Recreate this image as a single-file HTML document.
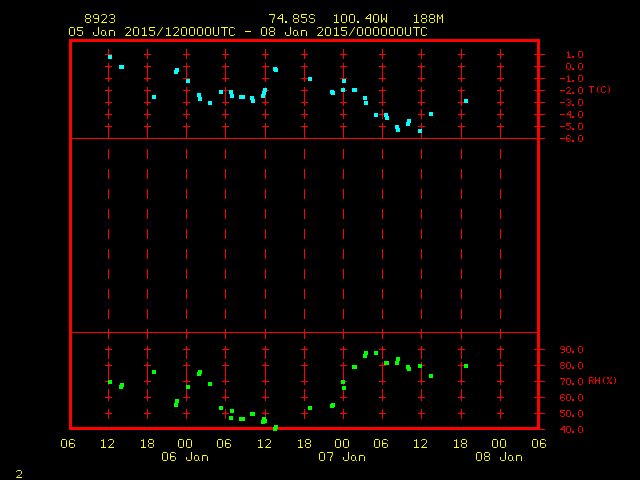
<!DOCTYPE html>
<html><head><meta charset="utf-8"><title>Meteogram 8923</title>
<style>
html,body{margin:0;padding:0;background:#000;width:640px;height:480px;overflow:hidden;font-family:"Liberation Sans",sans-serif;}
svg{display:block}
</style></head><body>
<svg width="640" height="480" viewBox="0 0 640 480">
<rect x="0" y="0" width="640" height="480" fill="#000"/>
<g shape-rendering="crispEdges">
<rect x="108" y="49" width="1" height="10" fill="#ff0000"/>
<rect x="108" y="69" width="1" height="10" fill="#ff0000"/>
<rect x="108" y="89" width="1" height="10" fill="#ff0000"/>
<rect x="108" y="109" width="1" height="10" fill="#ff0000"/>
<rect x="108" y="129" width="1" height="10" fill="#ff0000"/>
<rect x="108" y="149" width="1" height="10" fill="#ff0000"/>
<rect x="108" y="169" width="1" height="10" fill="#ff0000"/>
<rect x="108" y="189" width="1" height="10" fill="#ff0000"/>
<rect x="108" y="209" width="1" height="10" fill="#ff0000"/>
<rect x="108" y="229" width="1" height="10" fill="#ff0000"/>
<rect x="108" y="249" width="1" height="10" fill="#ff0000"/>
<rect x="108" y="269" width="1" height="10" fill="#ff0000"/>
<rect x="108" y="289" width="1" height="10" fill="#ff0000"/>
<rect x="108" y="309" width="1" height="10" fill="#ff0000"/>
<rect x="108" y="329" width="1" height="10" fill="#ff0000"/>
<rect x="108" y="349" width="1" height="10" fill="#ff0000"/>
<rect x="108" y="369" width="1" height="10" fill="#ff0000"/>
<rect x="108" y="389" width="1" height="10" fill="#ff0000"/>
<rect x="108" y="409" width="1" height="10" fill="#ff0000"/>
<rect x="105" y="54" width="7" height="1" fill="#ff0000"/>
<rect x="108" y="51" width="1" height="7" fill="#ff0000"/>
<rect x="105" y="66" width="7" height="1" fill="#ff0000"/>
<rect x="108" y="63" width="1" height="7" fill="#ff0000"/>
<rect x="105" y="78" width="7" height="1" fill="#ff0000"/>
<rect x="108" y="75" width="1" height="7" fill="#ff0000"/>
<rect x="105" y="90" width="7" height="1" fill="#ff0000"/>
<rect x="108" y="87" width="1" height="7" fill="#ff0000"/>
<rect x="105" y="102" width="7" height="1" fill="#ff0000"/>
<rect x="108" y="99" width="1" height="7" fill="#ff0000"/>
<rect x="105" y="114" width="7" height="1" fill="#ff0000"/>
<rect x="108" y="111" width="1" height="7" fill="#ff0000"/>
<rect x="105" y="126" width="7" height="1" fill="#ff0000"/>
<rect x="108" y="123" width="1" height="7" fill="#ff0000"/>
<rect x="105" y="349" width="7" height="1" fill="#ff0000"/>
<rect x="108" y="346" width="1" height="7" fill="#ff0000"/>
<rect x="105" y="365" width="7" height="1" fill="#ff0000"/>
<rect x="108" y="362" width="1" height="7" fill="#ff0000"/>
<rect x="105" y="381" width="7" height="1" fill="#ff0000"/>
<rect x="108" y="378" width="1" height="7" fill="#ff0000"/>
<rect x="105" y="397" width="7" height="1" fill="#ff0000"/>
<rect x="108" y="394" width="1" height="7" fill="#ff0000"/>
<rect x="105" y="413" width="7" height="1" fill="#ff0000"/>
<rect x="108" y="410" width="1" height="7" fill="#ff0000"/>
<rect x="147" y="49" width="1" height="10" fill="#ff0000"/>
<rect x="147" y="69" width="1" height="10" fill="#ff0000"/>
<rect x="147" y="89" width="1" height="10" fill="#ff0000"/>
<rect x="147" y="109" width="1" height="10" fill="#ff0000"/>
<rect x="147" y="129" width="1" height="10" fill="#ff0000"/>
<rect x="147" y="149" width="1" height="10" fill="#ff0000"/>
<rect x="147" y="169" width="1" height="10" fill="#ff0000"/>
<rect x="147" y="189" width="1" height="10" fill="#ff0000"/>
<rect x="147" y="209" width="1" height="10" fill="#ff0000"/>
<rect x="147" y="229" width="1" height="10" fill="#ff0000"/>
<rect x="147" y="249" width="1" height="10" fill="#ff0000"/>
<rect x="147" y="269" width="1" height="10" fill="#ff0000"/>
<rect x="147" y="289" width="1" height="10" fill="#ff0000"/>
<rect x="147" y="309" width="1" height="10" fill="#ff0000"/>
<rect x="147" y="329" width="1" height="10" fill="#ff0000"/>
<rect x="147" y="349" width="1" height="10" fill="#ff0000"/>
<rect x="147" y="369" width="1" height="10" fill="#ff0000"/>
<rect x="147" y="389" width="1" height="10" fill="#ff0000"/>
<rect x="147" y="409" width="1" height="10" fill="#ff0000"/>
<rect x="144" y="54" width="7" height="1" fill="#ff0000"/>
<rect x="147" y="51" width="1" height="7" fill="#ff0000"/>
<rect x="144" y="66" width="7" height="1" fill="#ff0000"/>
<rect x="147" y="63" width="1" height="7" fill="#ff0000"/>
<rect x="144" y="78" width="7" height="1" fill="#ff0000"/>
<rect x="147" y="75" width="1" height="7" fill="#ff0000"/>
<rect x="144" y="90" width="7" height="1" fill="#ff0000"/>
<rect x="147" y="87" width="1" height="7" fill="#ff0000"/>
<rect x="144" y="102" width="7" height="1" fill="#ff0000"/>
<rect x="147" y="99" width="1" height="7" fill="#ff0000"/>
<rect x="144" y="114" width="7" height="1" fill="#ff0000"/>
<rect x="147" y="111" width="1" height="7" fill="#ff0000"/>
<rect x="144" y="126" width="7" height="1" fill="#ff0000"/>
<rect x="147" y="123" width="1" height="7" fill="#ff0000"/>
<rect x="144" y="349" width="7" height="1" fill="#ff0000"/>
<rect x="147" y="346" width="1" height="7" fill="#ff0000"/>
<rect x="144" y="365" width="7" height="1" fill="#ff0000"/>
<rect x="147" y="362" width="1" height="7" fill="#ff0000"/>
<rect x="144" y="381" width="7" height="1" fill="#ff0000"/>
<rect x="147" y="378" width="1" height="7" fill="#ff0000"/>
<rect x="144" y="397" width="7" height="1" fill="#ff0000"/>
<rect x="147" y="394" width="1" height="7" fill="#ff0000"/>
<rect x="144" y="413" width="7" height="1" fill="#ff0000"/>
<rect x="147" y="410" width="1" height="7" fill="#ff0000"/>
<rect x="186" y="49" width="1" height="10" fill="#ff0000"/>
<rect x="186" y="69" width="1" height="10" fill="#ff0000"/>
<rect x="186" y="89" width="1" height="10" fill="#ff0000"/>
<rect x="186" y="109" width="1" height="10" fill="#ff0000"/>
<rect x="186" y="129" width="1" height="10" fill="#ff0000"/>
<rect x="186" y="149" width="1" height="10" fill="#ff0000"/>
<rect x="186" y="169" width="1" height="10" fill="#ff0000"/>
<rect x="186" y="189" width="1" height="10" fill="#ff0000"/>
<rect x="186" y="209" width="1" height="10" fill="#ff0000"/>
<rect x="186" y="229" width="1" height="10" fill="#ff0000"/>
<rect x="186" y="249" width="1" height="10" fill="#ff0000"/>
<rect x="186" y="269" width="1" height="10" fill="#ff0000"/>
<rect x="186" y="289" width="1" height="10" fill="#ff0000"/>
<rect x="186" y="309" width="1" height="10" fill="#ff0000"/>
<rect x="186" y="329" width="1" height="10" fill="#ff0000"/>
<rect x="186" y="349" width="1" height="10" fill="#ff0000"/>
<rect x="186" y="369" width="1" height="10" fill="#ff0000"/>
<rect x="186" y="389" width="1" height="10" fill="#ff0000"/>
<rect x="186" y="409" width="1" height="10" fill="#ff0000"/>
<rect x="183" y="54" width="7" height="1" fill="#ff0000"/>
<rect x="186" y="51" width="1" height="7" fill="#ff0000"/>
<rect x="183" y="66" width="7" height="1" fill="#ff0000"/>
<rect x="186" y="63" width="1" height="7" fill="#ff0000"/>
<rect x="183" y="78" width="7" height="1" fill="#ff0000"/>
<rect x="186" y="75" width="1" height="7" fill="#ff0000"/>
<rect x="183" y="90" width="7" height="1" fill="#ff0000"/>
<rect x="186" y="87" width="1" height="7" fill="#ff0000"/>
<rect x="183" y="102" width="7" height="1" fill="#ff0000"/>
<rect x="186" y="99" width="1" height="7" fill="#ff0000"/>
<rect x="183" y="114" width="7" height="1" fill="#ff0000"/>
<rect x="186" y="111" width="1" height="7" fill="#ff0000"/>
<rect x="183" y="126" width="7" height="1" fill="#ff0000"/>
<rect x="186" y="123" width="1" height="7" fill="#ff0000"/>
<rect x="183" y="349" width="7" height="1" fill="#ff0000"/>
<rect x="186" y="346" width="1" height="7" fill="#ff0000"/>
<rect x="183" y="365" width="7" height="1" fill="#ff0000"/>
<rect x="186" y="362" width="1" height="7" fill="#ff0000"/>
<rect x="183" y="381" width="7" height="1" fill="#ff0000"/>
<rect x="186" y="378" width="1" height="7" fill="#ff0000"/>
<rect x="183" y="397" width="7" height="1" fill="#ff0000"/>
<rect x="186" y="394" width="1" height="7" fill="#ff0000"/>
<rect x="183" y="413" width="7" height="1" fill="#ff0000"/>
<rect x="186" y="410" width="1" height="7" fill="#ff0000"/>
<rect x="225" y="49" width="1" height="10" fill="#ff0000"/>
<rect x="225" y="69" width="1" height="10" fill="#ff0000"/>
<rect x="225" y="89" width="1" height="10" fill="#ff0000"/>
<rect x="225" y="109" width="1" height="10" fill="#ff0000"/>
<rect x="225" y="129" width="1" height="10" fill="#ff0000"/>
<rect x="225" y="149" width="1" height="10" fill="#ff0000"/>
<rect x="225" y="169" width="1" height="10" fill="#ff0000"/>
<rect x="225" y="189" width="1" height="10" fill="#ff0000"/>
<rect x="225" y="209" width="1" height="10" fill="#ff0000"/>
<rect x="225" y="229" width="1" height="10" fill="#ff0000"/>
<rect x="225" y="249" width="1" height="10" fill="#ff0000"/>
<rect x="225" y="269" width="1" height="10" fill="#ff0000"/>
<rect x="225" y="289" width="1" height="10" fill="#ff0000"/>
<rect x="225" y="309" width="1" height="10" fill="#ff0000"/>
<rect x="225" y="329" width="1" height="10" fill="#ff0000"/>
<rect x="225" y="349" width="1" height="10" fill="#ff0000"/>
<rect x="225" y="369" width="1" height="10" fill="#ff0000"/>
<rect x="225" y="389" width="1" height="10" fill="#ff0000"/>
<rect x="225" y="409" width="1" height="10" fill="#ff0000"/>
<rect x="222" y="54" width="7" height="1" fill="#ff0000"/>
<rect x="225" y="51" width="1" height="7" fill="#ff0000"/>
<rect x="222" y="66" width="7" height="1" fill="#ff0000"/>
<rect x="225" y="63" width="1" height="7" fill="#ff0000"/>
<rect x="222" y="78" width="7" height="1" fill="#ff0000"/>
<rect x="225" y="75" width="1" height="7" fill="#ff0000"/>
<rect x="222" y="90" width="7" height="1" fill="#ff0000"/>
<rect x="225" y="87" width="1" height="7" fill="#ff0000"/>
<rect x="222" y="102" width="7" height="1" fill="#ff0000"/>
<rect x="225" y="99" width="1" height="7" fill="#ff0000"/>
<rect x="222" y="114" width="7" height="1" fill="#ff0000"/>
<rect x="225" y="111" width="1" height="7" fill="#ff0000"/>
<rect x="222" y="126" width="7" height="1" fill="#ff0000"/>
<rect x="225" y="123" width="1" height="7" fill="#ff0000"/>
<rect x="222" y="349" width="7" height="1" fill="#ff0000"/>
<rect x="225" y="346" width="1" height="7" fill="#ff0000"/>
<rect x="222" y="365" width="7" height="1" fill="#ff0000"/>
<rect x="225" y="362" width="1" height="7" fill="#ff0000"/>
<rect x="222" y="381" width="7" height="1" fill="#ff0000"/>
<rect x="225" y="378" width="1" height="7" fill="#ff0000"/>
<rect x="222" y="397" width="7" height="1" fill="#ff0000"/>
<rect x="225" y="394" width="1" height="7" fill="#ff0000"/>
<rect x="222" y="413" width="7" height="1" fill="#ff0000"/>
<rect x="225" y="410" width="1" height="7" fill="#ff0000"/>
<rect x="265" y="49" width="1" height="10" fill="#ff0000"/>
<rect x="265" y="69" width="1" height="10" fill="#ff0000"/>
<rect x="265" y="89" width="1" height="10" fill="#ff0000"/>
<rect x="265" y="109" width="1" height="10" fill="#ff0000"/>
<rect x="265" y="129" width="1" height="10" fill="#ff0000"/>
<rect x="265" y="149" width="1" height="10" fill="#ff0000"/>
<rect x="265" y="169" width="1" height="10" fill="#ff0000"/>
<rect x="265" y="189" width="1" height="10" fill="#ff0000"/>
<rect x="265" y="209" width="1" height="10" fill="#ff0000"/>
<rect x="265" y="229" width="1" height="10" fill="#ff0000"/>
<rect x="265" y="249" width="1" height="10" fill="#ff0000"/>
<rect x="265" y="269" width="1" height="10" fill="#ff0000"/>
<rect x="265" y="289" width="1" height="10" fill="#ff0000"/>
<rect x="265" y="309" width="1" height="10" fill="#ff0000"/>
<rect x="265" y="329" width="1" height="10" fill="#ff0000"/>
<rect x="265" y="349" width="1" height="10" fill="#ff0000"/>
<rect x="265" y="369" width="1" height="10" fill="#ff0000"/>
<rect x="265" y="389" width="1" height="10" fill="#ff0000"/>
<rect x="265" y="409" width="1" height="10" fill="#ff0000"/>
<rect x="262" y="54" width="7" height="1" fill="#ff0000"/>
<rect x="265" y="51" width="1" height="7" fill="#ff0000"/>
<rect x="262" y="66" width="7" height="1" fill="#ff0000"/>
<rect x="265" y="63" width="1" height="7" fill="#ff0000"/>
<rect x="262" y="78" width="7" height="1" fill="#ff0000"/>
<rect x="265" y="75" width="1" height="7" fill="#ff0000"/>
<rect x="262" y="90" width="7" height="1" fill="#ff0000"/>
<rect x="265" y="87" width="1" height="7" fill="#ff0000"/>
<rect x="262" y="102" width="7" height="1" fill="#ff0000"/>
<rect x="265" y="99" width="1" height="7" fill="#ff0000"/>
<rect x="262" y="114" width="7" height="1" fill="#ff0000"/>
<rect x="265" y="111" width="1" height="7" fill="#ff0000"/>
<rect x="262" y="126" width="7" height="1" fill="#ff0000"/>
<rect x="265" y="123" width="1" height="7" fill="#ff0000"/>
<rect x="262" y="349" width="7" height="1" fill="#ff0000"/>
<rect x="265" y="346" width="1" height="7" fill="#ff0000"/>
<rect x="262" y="365" width="7" height="1" fill="#ff0000"/>
<rect x="265" y="362" width="1" height="7" fill="#ff0000"/>
<rect x="262" y="381" width="7" height="1" fill="#ff0000"/>
<rect x="265" y="378" width="1" height="7" fill="#ff0000"/>
<rect x="262" y="397" width="7" height="1" fill="#ff0000"/>
<rect x="265" y="394" width="1" height="7" fill="#ff0000"/>
<rect x="262" y="413" width="7" height="1" fill="#ff0000"/>
<rect x="265" y="410" width="1" height="7" fill="#ff0000"/>
<rect x="304" y="49" width="1" height="10" fill="#ff0000"/>
<rect x="304" y="69" width="1" height="10" fill="#ff0000"/>
<rect x="304" y="89" width="1" height="10" fill="#ff0000"/>
<rect x="304" y="109" width="1" height="10" fill="#ff0000"/>
<rect x="304" y="129" width="1" height="10" fill="#ff0000"/>
<rect x="304" y="149" width="1" height="10" fill="#ff0000"/>
<rect x="304" y="169" width="1" height="10" fill="#ff0000"/>
<rect x="304" y="189" width="1" height="10" fill="#ff0000"/>
<rect x="304" y="209" width="1" height="10" fill="#ff0000"/>
<rect x="304" y="229" width="1" height="10" fill="#ff0000"/>
<rect x="304" y="249" width="1" height="10" fill="#ff0000"/>
<rect x="304" y="269" width="1" height="10" fill="#ff0000"/>
<rect x="304" y="289" width="1" height="10" fill="#ff0000"/>
<rect x="304" y="309" width="1" height="10" fill="#ff0000"/>
<rect x="304" y="329" width="1" height="10" fill="#ff0000"/>
<rect x="304" y="349" width="1" height="10" fill="#ff0000"/>
<rect x="304" y="369" width="1" height="10" fill="#ff0000"/>
<rect x="304" y="389" width="1" height="10" fill="#ff0000"/>
<rect x="304" y="409" width="1" height="10" fill="#ff0000"/>
<rect x="301" y="54" width="7" height="1" fill="#ff0000"/>
<rect x="304" y="51" width="1" height="7" fill="#ff0000"/>
<rect x="301" y="66" width="7" height="1" fill="#ff0000"/>
<rect x="304" y="63" width="1" height="7" fill="#ff0000"/>
<rect x="301" y="78" width="7" height="1" fill="#ff0000"/>
<rect x="304" y="75" width="1" height="7" fill="#ff0000"/>
<rect x="301" y="90" width="7" height="1" fill="#ff0000"/>
<rect x="304" y="87" width="1" height="7" fill="#ff0000"/>
<rect x="301" y="102" width="7" height="1" fill="#ff0000"/>
<rect x="304" y="99" width="1" height="7" fill="#ff0000"/>
<rect x="301" y="114" width="7" height="1" fill="#ff0000"/>
<rect x="304" y="111" width="1" height="7" fill="#ff0000"/>
<rect x="301" y="126" width="7" height="1" fill="#ff0000"/>
<rect x="304" y="123" width="1" height="7" fill="#ff0000"/>
<rect x="301" y="349" width="7" height="1" fill="#ff0000"/>
<rect x="304" y="346" width="1" height="7" fill="#ff0000"/>
<rect x="301" y="365" width="7" height="1" fill="#ff0000"/>
<rect x="304" y="362" width="1" height="7" fill="#ff0000"/>
<rect x="301" y="381" width="7" height="1" fill="#ff0000"/>
<rect x="304" y="378" width="1" height="7" fill="#ff0000"/>
<rect x="301" y="397" width="7" height="1" fill="#ff0000"/>
<rect x="304" y="394" width="1" height="7" fill="#ff0000"/>
<rect x="301" y="413" width="7" height="1" fill="#ff0000"/>
<rect x="304" y="410" width="1" height="7" fill="#ff0000"/>
<rect x="343" y="49" width="1" height="10" fill="#ff0000"/>
<rect x="343" y="69" width="1" height="10" fill="#ff0000"/>
<rect x="343" y="89" width="1" height="10" fill="#ff0000"/>
<rect x="343" y="109" width="1" height="10" fill="#ff0000"/>
<rect x="343" y="129" width="1" height="10" fill="#ff0000"/>
<rect x="343" y="149" width="1" height="10" fill="#ff0000"/>
<rect x="343" y="169" width="1" height="10" fill="#ff0000"/>
<rect x="343" y="189" width="1" height="10" fill="#ff0000"/>
<rect x="343" y="209" width="1" height="10" fill="#ff0000"/>
<rect x="343" y="229" width="1" height="10" fill="#ff0000"/>
<rect x="343" y="249" width="1" height="10" fill="#ff0000"/>
<rect x="343" y="269" width="1" height="10" fill="#ff0000"/>
<rect x="343" y="289" width="1" height="10" fill="#ff0000"/>
<rect x="343" y="309" width="1" height="10" fill="#ff0000"/>
<rect x="343" y="329" width="1" height="10" fill="#ff0000"/>
<rect x="343" y="349" width="1" height="10" fill="#ff0000"/>
<rect x="343" y="369" width="1" height="10" fill="#ff0000"/>
<rect x="343" y="389" width="1" height="10" fill="#ff0000"/>
<rect x="343" y="409" width="1" height="10" fill="#ff0000"/>
<rect x="340" y="54" width="7" height="1" fill="#ff0000"/>
<rect x="343" y="51" width="1" height="7" fill="#ff0000"/>
<rect x="340" y="66" width="7" height="1" fill="#ff0000"/>
<rect x="343" y="63" width="1" height="7" fill="#ff0000"/>
<rect x="340" y="78" width="7" height="1" fill="#ff0000"/>
<rect x="343" y="75" width="1" height="7" fill="#ff0000"/>
<rect x="340" y="90" width="7" height="1" fill="#ff0000"/>
<rect x="343" y="87" width="1" height="7" fill="#ff0000"/>
<rect x="340" y="102" width="7" height="1" fill="#ff0000"/>
<rect x="343" y="99" width="1" height="7" fill="#ff0000"/>
<rect x="340" y="114" width="7" height="1" fill="#ff0000"/>
<rect x="343" y="111" width="1" height="7" fill="#ff0000"/>
<rect x="340" y="126" width="7" height="1" fill="#ff0000"/>
<rect x="343" y="123" width="1" height="7" fill="#ff0000"/>
<rect x="340" y="349" width="7" height="1" fill="#ff0000"/>
<rect x="343" y="346" width="1" height="7" fill="#ff0000"/>
<rect x="340" y="365" width="7" height="1" fill="#ff0000"/>
<rect x="343" y="362" width="1" height="7" fill="#ff0000"/>
<rect x="340" y="381" width="7" height="1" fill="#ff0000"/>
<rect x="343" y="378" width="1" height="7" fill="#ff0000"/>
<rect x="340" y="397" width="7" height="1" fill="#ff0000"/>
<rect x="343" y="394" width="1" height="7" fill="#ff0000"/>
<rect x="340" y="413" width="7" height="1" fill="#ff0000"/>
<rect x="343" y="410" width="1" height="7" fill="#ff0000"/>
<rect x="382" y="49" width="1" height="10" fill="#ff0000"/>
<rect x="382" y="69" width="1" height="10" fill="#ff0000"/>
<rect x="382" y="89" width="1" height="10" fill="#ff0000"/>
<rect x="382" y="109" width="1" height="10" fill="#ff0000"/>
<rect x="382" y="129" width="1" height="10" fill="#ff0000"/>
<rect x="382" y="149" width="1" height="10" fill="#ff0000"/>
<rect x="382" y="169" width="1" height="10" fill="#ff0000"/>
<rect x="382" y="189" width="1" height="10" fill="#ff0000"/>
<rect x="382" y="209" width="1" height="10" fill="#ff0000"/>
<rect x="382" y="229" width="1" height="10" fill="#ff0000"/>
<rect x="382" y="249" width="1" height="10" fill="#ff0000"/>
<rect x="382" y="269" width="1" height="10" fill="#ff0000"/>
<rect x="382" y="289" width="1" height="10" fill="#ff0000"/>
<rect x="382" y="309" width="1" height="10" fill="#ff0000"/>
<rect x="382" y="329" width="1" height="10" fill="#ff0000"/>
<rect x="382" y="349" width="1" height="10" fill="#ff0000"/>
<rect x="382" y="369" width="1" height="10" fill="#ff0000"/>
<rect x="382" y="389" width="1" height="10" fill="#ff0000"/>
<rect x="382" y="409" width="1" height="10" fill="#ff0000"/>
<rect x="379" y="54" width="7" height="1" fill="#ff0000"/>
<rect x="382" y="51" width="1" height="7" fill="#ff0000"/>
<rect x="379" y="66" width="7" height="1" fill="#ff0000"/>
<rect x="382" y="63" width="1" height="7" fill="#ff0000"/>
<rect x="379" y="78" width="7" height="1" fill="#ff0000"/>
<rect x="382" y="75" width="1" height="7" fill="#ff0000"/>
<rect x="379" y="90" width="7" height="1" fill="#ff0000"/>
<rect x="382" y="87" width="1" height="7" fill="#ff0000"/>
<rect x="379" y="102" width="7" height="1" fill="#ff0000"/>
<rect x="382" y="99" width="1" height="7" fill="#ff0000"/>
<rect x="379" y="114" width="7" height="1" fill="#ff0000"/>
<rect x="382" y="111" width="1" height="7" fill="#ff0000"/>
<rect x="379" y="126" width="7" height="1" fill="#ff0000"/>
<rect x="382" y="123" width="1" height="7" fill="#ff0000"/>
<rect x="379" y="349" width="7" height="1" fill="#ff0000"/>
<rect x="382" y="346" width="1" height="7" fill="#ff0000"/>
<rect x="379" y="365" width="7" height="1" fill="#ff0000"/>
<rect x="382" y="362" width="1" height="7" fill="#ff0000"/>
<rect x="379" y="381" width="7" height="1" fill="#ff0000"/>
<rect x="382" y="378" width="1" height="7" fill="#ff0000"/>
<rect x="379" y="397" width="7" height="1" fill="#ff0000"/>
<rect x="382" y="394" width="1" height="7" fill="#ff0000"/>
<rect x="379" y="413" width="7" height="1" fill="#ff0000"/>
<rect x="382" y="410" width="1" height="7" fill="#ff0000"/>
<rect x="421" y="49" width="1" height="10" fill="#ff0000"/>
<rect x="421" y="69" width="1" height="10" fill="#ff0000"/>
<rect x="421" y="89" width="1" height="10" fill="#ff0000"/>
<rect x="421" y="109" width="1" height="10" fill="#ff0000"/>
<rect x="421" y="129" width="1" height="10" fill="#ff0000"/>
<rect x="421" y="149" width="1" height="10" fill="#ff0000"/>
<rect x="421" y="169" width="1" height="10" fill="#ff0000"/>
<rect x="421" y="189" width="1" height="10" fill="#ff0000"/>
<rect x="421" y="209" width="1" height="10" fill="#ff0000"/>
<rect x="421" y="229" width="1" height="10" fill="#ff0000"/>
<rect x="421" y="249" width="1" height="10" fill="#ff0000"/>
<rect x="421" y="269" width="1" height="10" fill="#ff0000"/>
<rect x="421" y="289" width="1" height="10" fill="#ff0000"/>
<rect x="421" y="309" width="1" height="10" fill="#ff0000"/>
<rect x="421" y="329" width="1" height="10" fill="#ff0000"/>
<rect x="421" y="349" width="1" height="10" fill="#ff0000"/>
<rect x="421" y="369" width="1" height="10" fill="#ff0000"/>
<rect x="421" y="389" width="1" height="10" fill="#ff0000"/>
<rect x="421" y="409" width="1" height="10" fill="#ff0000"/>
<rect x="418" y="54" width="7" height="1" fill="#ff0000"/>
<rect x="421" y="51" width="1" height="7" fill="#ff0000"/>
<rect x="418" y="66" width="7" height="1" fill="#ff0000"/>
<rect x="421" y="63" width="1" height="7" fill="#ff0000"/>
<rect x="418" y="78" width="7" height="1" fill="#ff0000"/>
<rect x="421" y="75" width="1" height="7" fill="#ff0000"/>
<rect x="418" y="90" width="7" height="1" fill="#ff0000"/>
<rect x="421" y="87" width="1" height="7" fill="#ff0000"/>
<rect x="418" y="102" width="7" height="1" fill="#ff0000"/>
<rect x="421" y="99" width="1" height="7" fill="#ff0000"/>
<rect x="418" y="114" width="7" height="1" fill="#ff0000"/>
<rect x="421" y="111" width="1" height="7" fill="#ff0000"/>
<rect x="418" y="126" width="7" height="1" fill="#ff0000"/>
<rect x="421" y="123" width="1" height="7" fill="#ff0000"/>
<rect x="418" y="349" width="7" height="1" fill="#ff0000"/>
<rect x="421" y="346" width="1" height="7" fill="#ff0000"/>
<rect x="418" y="365" width="7" height="1" fill="#ff0000"/>
<rect x="421" y="362" width="1" height="7" fill="#ff0000"/>
<rect x="418" y="381" width="7" height="1" fill="#ff0000"/>
<rect x="421" y="378" width="1" height="7" fill="#ff0000"/>
<rect x="418" y="397" width="7" height="1" fill="#ff0000"/>
<rect x="421" y="394" width="1" height="7" fill="#ff0000"/>
<rect x="418" y="413" width="7" height="1" fill="#ff0000"/>
<rect x="421" y="410" width="1" height="7" fill="#ff0000"/>
<rect x="461" y="49" width="1" height="10" fill="#ff0000"/>
<rect x="461" y="69" width="1" height="10" fill="#ff0000"/>
<rect x="461" y="89" width="1" height="10" fill="#ff0000"/>
<rect x="461" y="109" width="1" height="10" fill="#ff0000"/>
<rect x="461" y="129" width="1" height="10" fill="#ff0000"/>
<rect x="461" y="149" width="1" height="10" fill="#ff0000"/>
<rect x="461" y="169" width="1" height="10" fill="#ff0000"/>
<rect x="461" y="189" width="1" height="10" fill="#ff0000"/>
<rect x="461" y="209" width="1" height="10" fill="#ff0000"/>
<rect x="461" y="229" width="1" height="10" fill="#ff0000"/>
<rect x="461" y="249" width="1" height="10" fill="#ff0000"/>
<rect x="461" y="269" width="1" height="10" fill="#ff0000"/>
<rect x="461" y="289" width="1" height="10" fill="#ff0000"/>
<rect x="461" y="309" width="1" height="10" fill="#ff0000"/>
<rect x="461" y="329" width="1" height="10" fill="#ff0000"/>
<rect x="461" y="349" width="1" height="10" fill="#ff0000"/>
<rect x="461" y="369" width="1" height="10" fill="#ff0000"/>
<rect x="461" y="389" width="1" height="10" fill="#ff0000"/>
<rect x="461" y="409" width="1" height="10" fill="#ff0000"/>
<rect x="458" y="54" width="7" height="1" fill="#ff0000"/>
<rect x="461" y="51" width="1" height="7" fill="#ff0000"/>
<rect x="458" y="66" width="7" height="1" fill="#ff0000"/>
<rect x="461" y="63" width="1" height="7" fill="#ff0000"/>
<rect x="458" y="78" width="7" height="1" fill="#ff0000"/>
<rect x="461" y="75" width="1" height="7" fill="#ff0000"/>
<rect x="458" y="90" width="7" height="1" fill="#ff0000"/>
<rect x="461" y="87" width="1" height="7" fill="#ff0000"/>
<rect x="458" y="102" width="7" height="1" fill="#ff0000"/>
<rect x="461" y="99" width="1" height="7" fill="#ff0000"/>
<rect x="458" y="114" width="7" height="1" fill="#ff0000"/>
<rect x="461" y="111" width="1" height="7" fill="#ff0000"/>
<rect x="458" y="126" width="7" height="1" fill="#ff0000"/>
<rect x="461" y="123" width="1" height="7" fill="#ff0000"/>
<rect x="458" y="349" width="7" height="1" fill="#ff0000"/>
<rect x="461" y="346" width="1" height="7" fill="#ff0000"/>
<rect x="458" y="365" width="7" height="1" fill="#ff0000"/>
<rect x="461" y="362" width="1" height="7" fill="#ff0000"/>
<rect x="458" y="381" width="7" height="1" fill="#ff0000"/>
<rect x="461" y="378" width="1" height="7" fill="#ff0000"/>
<rect x="458" y="397" width="7" height="1" fill="#ff0000"/>
<rect x="461" y="394" width="1" height="7" fill="#ff0000"/>
<rect x="458" y="413" width="7" height="1" fill="#ff0000"/>
<rect x="461" y="410" width="1" height="7" fill="#ff0000"/>
<rect x="500" y="49" width="1" height="10" fill="#ff0000"/>
<rect x="500" y="69" width="1" height="10" fill="#ff0000"/>
<rect x="500" y="89" width="1" height="10" fill="#ff0000"/>
<rect x="500" y="109" width="1" height="10" fill="#ff0000"/>
<rect x="500" y="129" width="1" height="10" fill="#ff0000"/>
<rect x="500" y="149" width="1" height="10" fill="#ff0000"/>
<rect x="500" y="169" width="1" height="10" fill="#ff0000"/>
<rect x="500" y="189" width="1" height="10" fill="#ff0000"/>
<rect x="500" y="209" width="1" height="10" fill="#ff0000"/>
<rect x="500" y="229" width="1" height="10" fill="#ff0000"/>
<rect x="500" y="249" width="1" height="10" fill="#ff0000"/>
<rect x="500" y="269" width="1" height="10" fill="#ff0000"/>
<rect x="500" y="289" width="1" height="10" fill="#ff0000"/>
<rect x="500" y="309" width="1" height="10" fill="#ff0000"/>
<rect x="500" y="329" width="1" height="10" fill="#ff0000"/>
<rect x="500" y="349" width="1" height="10" fill="#ff0000"/>
<rect x="500" y="369" width="1" height="10" fill="#ff0000"/>
<rect x="500" y="389" width="1" height="10" fill="#ff0000"/>
<rect x="500" y="409" width="1" height="10" fill="#ff0000"/>
<rect x="497" y="54" width="7" height="1" fill="#ff0000"/>
<rect x="500" y="51" width="1" height="7" fill="#ff0000"/>
<rect x="497" y="66" width="7" height="1" fill="#ff0000"/>
<rect x="500" y="63" width="1" height="7" fill="#ff0000"/>
<rect x="497" y="78" width="7" height="1" fill="#ff0000"/>
<rect x="500" y="75" width="1" height="7" fill="#ff0000"/>
<rect x="497" y="90" width="7" height="1" fill="#ff0000"/>
<rect x="500" y="87" width="1" height="7" fill="#ff0000"/>
<rect x="497" y="102" width="7" height="1" fill="#ff0000"/>
<rect x="500" y="99" width="1" height="7" fill="#ff0000"/>
<rect x="497" y="114" width="7" height="1" fill="#ff0000"/>
<rect x="500" y="111" width="1" height="7" fill="#ff0000"/>
<rect x="497" y="126" width="7" height="1" fill="#ff0000"/>
<rect x="500" y="123" width="1" height="7" fill="#ff0000"/>
<rect x="497" y="349" width="7" height="1" fill="#ff0000"/>
<rect x="500" y="346" width="1" height="7" fill="#ff0000"/>
<rect x="497" y="365" width="7" height="1" fill="#ff0000"/>
<rect x="500" y="362" width="1" height="7" fill="#ff0000"/>
<rect x="497" y="381" width="7" height="1" fill="#ff0000"/>
<rect x="500" y="378" width="1" height="7" fill="#ff0000"/>
<rect x="497" y="397" width="7" height="1" fill="#ff0000"/>
<rect x="500" y="394" width="1" height="7" fill="#ff0000"/>
<rect x="497" y="413" width="7" height="1" fill="#ff0000"/>
<rect x="500" y="410" width="1" height="7" fill="#ff0000"/>
<rect x="70" y="138" width="468" height="1" fill="#ff0000"/>
<rect x="70" y="332" width="468" height="1" fill="#ff0000"/>
<rect x="69" y="39" width="471" height="3" fill="#ff0000"/>
<rect x="69" y="427" width="471" height="3" fill="#ff0000"/>
<rect x="69" y="39" width="3" height="391" fill="#ff0000"/>
<rect x="537" y="39" width="3" height="391" fill="#ff0000"/>
<rect x="534" y="54" width="11" height="1" fill="#ff0000"/>
<rect x="534" y="66" width="11" height="1" fill="#ff0000"/>
<rect x="534" y="78" width="11" height="1" fill="#ff0000"/>
<rect x="534" y="90" width="11" height="1" fill="#ff0000"/>
<rect x="534" y="102" width="11" height="1" fill="#ff0000"/>
<rect x="534" y="114" width="11" height="1" fill="#ff0000"/>
<rect x="534" y="126" width="11" height="1" fill="#ff0000"/>
<rect x="534" y="138" width="11" height="1" fill="#ff0000"/>
<rect x="534" y="349" width="11" height="1" fill="#ff0000"/>
<rect x="534" y="365" width="11" height="1" fill="#ff0000"/>
<rect x="534" y="381" width="11" height="1" fill="#ff0000"/>
<rect x="534" y="397" width="11" height="1" fill="#ff0000"/>
<rect x="534" y="413" width="11" height="1" fill="#ff0000"/>
<rect x="534" y="429" width="11" height="1" fill="#ff0000"/>
<rect x="108" y="55" width="4" height="4" fill="#00ffff"/>
<rect x="119" y="65" width="5" height="4" fill="#00ffff"/>
<rect x="175" y="68" width="4" height="4" fill="#00ffff"/>
<rect x="174" y="70" width="4" height="4" fill="#00ffff"/>
<rect x="186" y="79" width="4" height="4" fill="#00ffff"/>
<rect x="152" y="95" width="4" height="4" fill="#00ffff"/>
<rect x="197" y="93" width="4" height="4" fill="#00ffff"/>
<rect x="198" y="97" width="4" height="4" fill="#00ffff"/>
<rect x="208" y="101" width="4" height="4" fill="#00ffff"/>
<rect x="219" y="90" width="4" height="4" fill="#00ffff"/>
<rect x="229" y="90" width="4" height="4" fill="#00ffff"/>
<rect x="230" y="94" width="4" height="4" fill="#00ffff"/>
<rect x="239" y="95" width="6" height="4" fill="#00ffff"/>
<rect x="250" y="96" width="4" height="4" fill="#00ffff"/>
<rect x="251" y="99" width="4" height="4" fill="#00ffff"/>
<rect x="263" y="88" width="4" height="4" fill="#00ffff"/>
<rect x="262" y="91" width="4" height="4" fill="#00ffff"/>
<rect x="261" y="94" width="4" height="4" fill="#00ffff"/>
<rect x="273" y="67" width="4" height="4" fill="#00ffff"/>
<rect x="274" y="68" width="4" height="4" fill="#00ffff"/>
<rect x="308" y="77" width="4" height="4" fill="#00ffff"/>
<rect x="330" y="90" width="4" height="4" fill="#00ffff"/>
<rect x="331" y="91" width="4" height="4" fill="#00ffff"/>
<rect x="342" y="79" width="4" height="4" fill="#00ffff"/>
<rect x="341" y="88" width="4" height="4" fill="#00ffff"/>
<rect x="352" y="88" width="5" height="4" fill="#00ffff"/>
<rect x="363" y="96" width="4" height="4" fill="#00ffff"/>
<rect x="364" y="101" width="4" height="4" fill="#00ffff"/>
<rect x="374" y="113" width="4" height="4" fill="#00ffff"/>
<rect x="384" y="113" width="4" height="4" fill="#00ffff"/>
<rect x="385" y="116" width="4" height="4" fill="#00ffff"/>
<rect x="395" y="125" width="4" height="4" fill="#00ffff"/>
<rect x="396" y="128" width="4" height="4" fill="#00ffff"/>
<rect x="407" y="119" width="4" height="4" fill="#00ffff"/>
<rect x="406" y="122" width="4" height="4" fill="#00ffff"/>
<rect x="418" y="129" width="4" height="4" fill="#00ffff"/>
<rect x="429" y="112" width="4" height="4" fill="#00ffff"/>
<rect x="464" y="99" width="4" height="4" fill="#00ffff"/>
<rect x="108" y="380" width="4" height="4" fill="#00ff00"/>
<rect x="120" y="383" width="4" height="4" fill="#00ff00"/>
<rect x="119" y="385" width="4" height="4" fill="#00ff00"/>
<rect x="152" y="370" width="4" height="4" fill="#00ff00"/>
<rect x="175" y="399" width="4" height="4" fill="#00ff00"/>
<rect x="174" y="403" width="4" height="4" fill="#00ff00"/>
<rect x="186" y="385" width="4" height="4" fill="#00ff00"/>
<rect x="198" y="370" width="4" height="4" fill="#00ff00"/>
<rect x="197" y="372" width="4" height="4" fill="#00ff00"/>
<rect x="208" y="382" width="4" height="4" fill="#00ff00"/>
<rect x="219" y="406" width="4" height="4" fill="#00ff00"/>
<rect x="230" y="409" width="4" height="4" fill="#00ff00"/>
<rect x="229" y="416" width="4" height="4" fill="#00ff00"/>
<rect x="239" y="417" width="6" height="4" fill="#00ff00"/>
<rect x="250" y="412" width="5" height="4" fill="#00ff00"/>
<rect x="262" y="417" width="4" height="4" fill="#00ff00"/>
<rect x="263" y="419" width="4" height="4" fill="#00ff00"/>
<rect x="261" y="420" width="4" height="4" fill="#00ff00"/>
<rect x="274" y="425" width="4" height="4" fill="#00ff00"/>
<rect x="273" y="427" width="4" height="4" fill="#00ff00"/>
<rect x="308" y="406" width="4" height="4" fill="#00ff00"/>
<rect x="331" y="403" width="4" height="4" fill="#00ff00"/>
<rect x="330" y="404" width="4" height="4" fill="#00ff00"/>
<rect x="341" y="380" width="4" height="4" fill="#00ff00"/>
<rect x="342" y="386" width="4" height="4" fill="#00ff00"/>
<rect x="352" y="365" width="5" height="4" fill="#00ff00"/>
<rect x="364" y="351" width="4" height="4" fill="#00ff00"/>
<rect x="363" y="354" width="4" height="4" fill="#00ff00"/>
<rect x="374" y="351" width="4" height="4" fill="#00ff00"/>
<rect x="384" y="361" width="5" height="4" fill="#00ff00"/>
<rect x="396" y="357" width="4" height="4" fill="#00ff00"/>
<rect x="395" y="361" width="4" height="4" fill="#00ff00"/>
<rect x="406" y="365" width="4" height="4" fill="#00ff00"/>
<rect x="407" y="367" width="4" height="4" fill="#00ff00"/>
<rect x="418" y="364" width="4" height="4" fill="#00ff00"/>
<rect x="429" y="374" width="4" height="4" fill="#00ff00"/>
<rect x="464" y="364" width="4" height="4" fill="#00ff00"/>
</g>
<g>
<rect x="285" y="21" width="2" height="2" fill="#ffff00"/>
<rect x="357" y="21" width="2" height="2" fill="#ffff00"/>
<path d="M86.5 14.5 L89.5 14.5 L90.5 15.5 L90.5 17.5 L89.5 18.5 L90.5 19.5 L90.5 21.5 L89.5 22.5 L86.5 22.5 L85.5 21.5 L85.5 19.5 L86.5 18.5 L85.5 17.5 L85.5 15.5 L86.5 14.5 M86.5 18.5 L89.5 18.5 M94.5 22.5 L97.5 22.5 L98.5 21.5 L98.5 15.5 L97.5 14.5 L94.5 14.5 L93.5 15.5 L93.5 17.5 L94.5 18.5 L98.5 18.5 M101.5 15.5 L102.5 14.5 L105.5 14.5 L106.5 15.5 L106.5 17.5 L101.5 22.5 L106.5 22.5 M109.5 15.5 L110.5 14.5 L113.5 14.5 L114.5 15.5 L114.5 17.5 L113.5 18.5 L111.5 18.5 M113.5 18.5 L114.5 19.5 L114.5 21.5 L113.5 22.5 L110.5 22.5 L109.5 21.5 M269.5 14.5 L274.5 14.5 L274.5 16.5 L272.5 20.5 L272.5 22.5 M282.5 22.5 L282.5 14.5 M281.5 14.5 L277.5 18.5 L282.5 18.5 M294.5 14.5 L297.5 14.5 L298.5 15.5 L298.5 17.5 L297.5 18.5 L298.5 19.5 L298.5 21.5 L297.5 22.5 L294.5 22.5 L293.5 21.5 L293.5 19.5 L294.5 18.5 L293.5 17.5 L293.5 15.5 L294.5 14.5 M294.5 18.5 L297.5 18.5 M306.5 14.5 L301.5 14.5 L301.5 17.5 L305.5 17.5 L306.5 18.5 L306.5 21.5 L305.5 22.5 L302.5 22.5 L301.5 21.5 M314.5 15.5 L313.5 14.5 L310.5 14.5 L309.5 15.5 L309.5 17.5 L310.5 18.5 L313.5 18.5 L314.5 19.5 L314.5 21.5 L313.5 22.5 L310.5 22.5 L309.5 21.5 M334.5 15.5 L335.5 15.5 L336.5 14.5 L336.5 22.5 M334.5 22.5 L338.5 22.5 M342.5 14.5 L345.5 14.5 L346.5 15.5 L346.5 21.5 L345.5 22.5 L342.5 22.5 L341.5 21.5 L341.5 15.5 L342.5 14.5 M350.5 14.5 L353.5 14.5 L354.5 15.5 L354.5 21.5 L353.5 22.5 L350.5 22.5 L349.5 21.5 L349.5 15.5 L350.5 14.5 M370.5 22.5 L370.5 14.5 M369.5 14.5 L365.5 18.5 L370.5 18.5 M374.5 14.5 L377.5 14.5 L378.5 15.5 L378.5 21.5 L377.5 22.5 L374.5 22.5 L373.5 21.5 L373.5 15.5 L374.5 14.5 M381.5 14.5 L381.5 22.5 L382.5 21.5 L382.5 20.5 L383.5 19.5 L383.5 18.5 L384.5 18.5 L384.5 19.5 L385.5 20.5 L385.5 21.5 L386.5 22.5 L386.5 14.5 M414.5 15.5 L415.5 15.5 L416.5 14.5 L416.5 22.5 M414.5 22.5 L418.5 22.5 M422.5 14.5 L425.5 14.5 L426.5 15.5 L426.5 17.5 L425.5 18.5 L426.5 19.5 L426.5 21.5 L425.5 22.5 L422.5 22.5 L421.5 21.5 L421.5 19.5 L422.5 18.5 L421.5 17.5 L421.5 15.5 L422.5 14.5 M422.5 18.5 L425.5 18.5 M430.5 14.5 L433.5 14.5 L434.5 15.5 L434.5 17.5 L433.5 18.5 L434.5 19.5 L434.5 21.5 L433.5 22.5 L430.5 22.5 L429.5 21.5 L429.5 19.5 L430.5 18.5 L429.5 17.5 L429.5 15.5 L430.5 14.5 M430.5 18.5 L433.5 18.5 M437.5 22.5 L437.5 14.5 L438.5 15.5 L438.5 16.5 L439.5 17.5 L439.5 18.5 L440.5 18.5 L440.5 17.5 L441.5 16.5 L441.5 15.5 L442.5 14.5 L442.5 22.5" fill="none" stroke="#ffff00" stroke-width="1" stroke-linecap="square" stroke-linejoin="miter"/>
<path d="M70.5 27.5 L73.5 27.5 L74.5 28.5 L74.5 34.5 L73.5 35.5 L70.5 35.5 L69.5 34.5 L69.5 28.5 L70.5 27.5 M82.5 27.5 L77.5 27.5 L77.5 30.5 L81.5 30.5 L82.5 31.5 L82.5 34.5 L81.5 35.5 L78.5 35.5 L77.5 34.5 M98.5 27.5 L98.5 34.5 L97.5 35.5 L94.5 35.5 L93.5 34.5 L93.5 32.5 M102.5 30.5 L104.5 30.5 L105.5 31.5 L105.5 34.5 L104.5 35.5 L102.5 35.5 L101.5 34.5 L101.5 31.5 L102.5 30.5 M105.5 34.5 L106.5 35.5 M109.5 35.5 L109.5 30.5 L113.5 30.5 L114.5 31.5 L114.5 35.5 M125.5 28.5 L126.5 27.5 L129.5 27.5 L130.5 28.5 L130.5 30.5 L125.5 35.5 L130.5 35.5 M134.5 27.5 L137.5 27.5 L138.5 28.5 L138.5 34.5 L137.5 35.5 L134.5 35.5 L133.5 34.5 L133.5 28.5 L134.5 27.5 M142.5 28.5 L143.5 28.5 L144.5 27.5 L144.5 35.5 M142.5 35.5 L146.5 35.5 M154.5 27.5 L149.5 27.5 L149.5 30.5 L153.5 30.5 L154.5 31.5 L154.5 34.5 L153.5 35.5 L150.5 35.5 L149.5 34.5 M157.5 35.5 L162.5 27.5 M166.5 28.5 L167.5 28.5 L168.5 27.5 L168.5 35.5 M166.5 35.5 L170.5 35.5 M173.5 28.5 L174.5 27.5 L177.5 27.5 L178.5 28.5 L178.5 30.5 L173.5 35.5 L178.5 35.5 M182.5 27.5 L185.5 27.5 L186.5 28.5 L186.5 34.5 L185.5 35.5 L182.5 35.5 L181.5 34.5 L181.5 28.5 L182.5 27.5 M190.5 27.5 L193.5 27.5 L194.5 28.5 L194.5 34.5 L193.5 35.5 L190.5 35.5 L189.5 34.5 L189.5 28.5 L190.5 27.5 M198.5 27.5 L201.5 27.5 L202.5 28.5 L202.5 34.5 L201.5 35.5 L198.5 35.5 L197.5 34.5 L197.5 28.5 L198.5 27.5 M206.5 27.5 L209.5 27.5 L210.5 28.5 L210.5 34.5 L209.5 35.5 L206.5 35.5 L205.5 34.5 L205.5 28.5 L206.5 27.5 M213.5 27.5 L213.5 34.5 L214.5 35.5 L217.5 35.5 L218.5 34.5 L218.5 27.5 M221.5 27.5 L227.5 27.5 M224.5 27.5 L224.5 35.5 M234.5 28.5 L233.5 27.5 L230.5 27.5 L229.5 28.5 L229.5 34.5 L230.5 35.5 L233.5 35.5 L234.5 34.5 M245.5 31.5 L250.5 31.5 M262.5 27.5 L265.5 27.5 L266.5 28.5 L266.5 34.5 L265.5 35.5 L262.5 35.5 L261.5 34.5 L261.5 28.5 L262.5 27.5 M270.5 27.5 L273.5 27.5 L274.5 28.5 L274.5 30.5 L273.5 31.5 L274.5 32.5 L274.5 34.5 L273.5 35.5 L270.5 35.5 L269.5 34.5 L269.5 32.5 L270.5 31.5 L269.5 30.5 L269.5 28.5 L270.5 27.5 M270.5 31.5 L273.5 31.5 M290.5 27.5 L290.5 34.5 L289.5 35.5 L286.5 35.5 L285.5 34.5 L285.5 32.5 M294.5 30.5 L296.5 30.5 L297.5 31.5 L297.5 34.5 L296.5 35.5 L294.5 35.5 L293.5 34.5 L293.5 31.5 L294.5 30.5 M297.5 34.5 L298.5 35.5 M301.5 35.5 L301.5 30.5 L305.5 30.5 L306.5 31.5 L306.5 35.5 M317.5 28.5 L318.5 27.5 L321.5 27.5 L322.5 28.5 L322.5 30.5 L317.5 35.5 L322.5 35.5 M326.5 27.5 L329.5 27.5 L330.5 28.5 L330.5 34.5 L329.5 35.5 L326.5 35.5 L325.5 34.5 L325.5 28.5 L326.5 27.5 M334.5 28.5 L335.5 28.5 L336.5 27.5 L336.5 35.5 M334.5 35.5 L338.5 35.5 M346.5 27.5 L341.5 27.5 L341.5 30.5 L345.5 30.5 L346.5 31.5 L346.5 34.5 L345.5 35.5 L342.5 35.5 L341.5 34.5 M349.5 35.5 L354.5 27.5 M358.5 27.5 L361.5 27.5 L362.5 28.5 L362.5 34.5 L361.5 35.5 L358.5 35.5 L357.5 34.5 L357.5 28.5 L358.5 27.5 M366.5 27.5 L369.5 27.5 L370.5 28.5 L370.5 34.5 L369.5 35.5 L366.5 35.5 L365.5 34.5 L365.5 28.5 L366.5 27.5 M374.5 27.5 L377.5 27.5 L378.5 28.5 L378.5 34.5 L377.5 35.5 L374.5 35.5 L373.5 34.5 L373.5 28.5 L374.5 27.5 M382.5 27.5 L385.5 27.5 L386.5 28.5 L386.5 34.5 L385.5 35.5 L382.5 35.5 L381.5 34.5 L381.5 28.5 L382.5 27.5 M390.5 27.5 L393.5 27.5 L394.5 28.5 L394.5 34.5 L393.5 35.5 L390.5 35.5 L389.5 34.5 L389.5 28.5 L390.5 27.5 M398.5 27.5 L401.5 27.5 L402.5 28.5 L402.5 34.5 L401.5 35.5 L398.5 35.5 L397.5 34.5 L397.5 28.5 L398.5 27.5 M405.5 27.5 L405.5 34.5 L406.5 35.5 L409.5 35.5 L410.5 34.5 L410.5 27.5 M413.5 27.5 L419.5 27.5 M416.5 27.5 L416.5 35.5 M426.5 28.5 L425.5 27.5 L422.5 27.5 L421.5 28.5 L421.5 34.5 L422.5 35.5 L425.5 35.5 L426.5 34.5" fill="none" stroke="#ffff00" stroke-width="1" stroke-linecap="square" stroke-linejoin="miter"/>
<path d="M62.5 439.5 L65.5 439.5 L66.5 440.5 L66.5 446.5 L65.5 447.5 L62.5 447.5 L61.5 446.5 L61.5 440.5 L62.5 439.5 M74.5 440.5 L73.5 439.5 L70.5 439.5 L69.5 440.5 L69.5 446.5 L70.5 447.5 L73.5 447.5 L74.5 446.5 L74.5 444.5 L73.5 443.5 L69.5 443.5" fill="none" stroke="#ffff00" stroke-width="1" stroke-linecap="square" stroke-linejoin="miter"/>
<path d="M101.5 440.5 L102.5 440.5 L103.5 439.5 L103.5 447.5 M101.5 447.5 L105.5 447.5 M108.5 440.5 L109.5 439.5 L112.5 439.5 L113.5 440.5 L113.5 442.5 L108.5 447.5 L113.5 447.5" fill="none" stroke="#ffff00" stroke-width="1" stroke-linecap="square" stroke-linejoin="miter"/>
<path d="M141.5 440.5 L142.5 440.5 L143.5 439.5 L143.5 447.5 M141.5 447.5 L145.5 447.5 M149.5 439.5 L152.5 439.5 L153.5 440.5 L153.5 442.5 L152.5 443.5 L153.5 444.5 L153.5 446.5 L152.5 447.5 L149.5 447.5 L148.5 446.5 L148.5 444.5 L149.5 443.5 L148.5 442.5 L148.5 440.5 L149.5 439.5 M149.5 443.5 L152.5 443.5" fill="none" stroke="#ffff00" stroke-width="1" stroke-linecap="square" stroke-linejoin="miter"/>
<path d="M179.5 439.5 L182.5 439.5 L183.5 440.5 L183.5 446.5 L182.5 447.5 L179.5 447.5 L178.5 446.5 L178.5 440.5 L179.5 439.5 M187.5 439.5 L190.5 439.5 L191.5 440.5 L191.5 446.5 L190.5 447.5 L187.5 447.5 L186.5 446.5 L186.5 440.5 L187.5 439.5" fill="none" stroke="#ffff00" stroke-width="1" stroke-linecap="square" stroke-linejoin="miter"/>
<path d="M218.5 439.5 L221.5 439.5 L222.5 440.5 L222.5 446.5 L221.5 447.5 L218.5 447.5 L217.5 446.5 L217.5 440.5 L218.5 439.5 M230.5 440.5 L229.5 439.5 L226.5 439.5 L225.5 440.5 L225.5 446.5 L226.5 447.5 L229.5 447.5 L230.5 446.5 L230.5 444.5 L229.5 443.5 L225.5 443.5" fill="none" stroke="#ffff00" stroke-width="1" stroke-linecap="square" stroke-linejoin="miter"/>
<path d="M258.5 440.5 L259.5 440.5 L260.5 439.5 L260.5 447.5 M258.5 447.5 L262.5 447.5 M265.5 440.5 L266.5 439.5 L269.5 439.5 L270.5 440.5 L270.5 442.5 L265.5 447.5 L270.5 447.5" fill="none" stroke="#ffff00" stroke-width="1" stroke-linecap="square" stroke-linejoin="miter"/>
<path d="M298.5 440.5 L299.5 440.5 L300.5 439.5 L300.5 447.5 M298.5 447.5 L302.5 447.5 M306.5 439.5 L309.5 439.5 L310.5 440.5 L310.5 442.5 L309.5 443.5 L310.5 444.5 L310.5 446.5 L309.5 447.5 L306.5 447.5 L305.5 446.5 L305.5 444.5 L306.5 443.5 L305.5 442.5 L305.5 440.5 L306.5 439.5 M306.5 443.5 L309.5 443.5" fill="none" stroke="#ffff00" stroke-width="1" stroke-linecap="square" stroke-linejoin="miter"/>
<path d="M336.5 439.5 L339.5 439.5 L340.5 440.5 L340.5 446.5 L339.5 447.5 L336.5 447.5 L335.5 446.5 L335.5 440.5 L336.5 439.5 M344.5 439.5 L347.5 439.5 L348.5 440.5 L348.5 446.5 L347.5 447.5 L344.5 447.5 L343.5 446.5 L343.5 440.5 L344.5 439.5" fill="none" stroke="#ffff00" stroke-width="1" stroke-linecap="square" stroke-linejoin="miter"/>
<path d="M375.5 439.5 L378.5 439.5 L379.5 440.5 L379.5 446.5 L378.5 447.5 L375.5 447.5 L374.5 446.5 L374.5 440.5 L375.5 439.5 M387.5 440.5 L386.5 439.5 L383.5 439.5 L382.5 440.5 L382.5 446.5 L383.5 447.5 L386.5 447.5 L387.5 446.5 L387.5 444.5 L386.5 443.5 L382.5 443.5" fill="none" stroke="#ffff00" stroke-width="1" stroke-linecap="square" stroke-linejoin="miter"/>
<path d="M414.5 440.5 L415.5 440.5 L416.5 439.5 L416.5 447.5 M414.5 447.5 L418.5 447.5 M421.5 440.5 L422.5 439.5 L425.5 439.5 L426.5 440.5 L426.5 442.5 L421.5 447.5 L426.5 447.5" fill="none" stroke="#ffff00" stroke-width="1" stroke-linecap="square" stroke-linejoin="miter"/>
<path d="M454.5 440.5 L455.5 440.5 L456.5 439.5 L456.5 447.5 M454.5 447.5 L458.5 447.5 M462.5 439.5 L465.5 439.5 L466.5 440.5 L466.5 442.5 L465.5 443.5 L466.5 444.5 L466.5 446.5 L465.5 447.5 L462.5 447.5 L461.5 446.5 L461.5 444.5 L462.5 443.5 L461.5 442.5 L461.5 440.5 L462.5 439.5 M462.5 443.5 L465.5 443.5" fill="none" stroke="#ffff00" stroke-width="1" stroke-linecap="square" stroke-linejoin="miter"/>
<path d="M493.5 439.5 L496.5 439.5 L497.5 440.5 L497.5 446.5 L496.5 447.5 L493.5 447.5 L492.5 446.5 L492.5 440.5 L493.5 439.5 M501.5 439.5 L504.5 439.5 L505.5 440.5 L505.5 446.5 L504.5 447.5 L501.5 447.5 L500.5 446.5 L500.5 440.5 L501.5 439.5" fill="none" stroke="#ffff00" stroke-width="1" stroke-linecap="square" stroke-linejoin="miter"/>
<path d="M533.5 439.5 L536.5 439.5 L537.5 440.5 L537.5 446.5 L536.5 447.5 L533.5 447.5 L532.5 446.5 L532.5 440.5 L533.5 439.5 M545.5 440.5 L544.5 439.5 L541.5 439.5 L540.5 440.5 L540.5 446.5 L541.5 447.5 L544.5 447.5 L545.5 446.5 L545.5 444.5 L544.5 443.5 L540.5 443.5" fill="none" stroke="#ffff00" stroke-width="1" stroke-linecap="square" stroke-linejoin="miter"/>
<path d="M163.5 452.5 L166.5 452.5 L167.5 453.5 L167.5 459.5 L166.5 460.5 L163.5 460.5 L162.5 459.5 L162.5 453.5 L163.5 452.5 M175.5 453.5 L174.5 452.5 L171.5 452.5 L170.5 453.5 L170.5 459.5 L171.5 460.5 L174.5 460.5 L175.5 459.5 L175.5 457.5 L174.5 456.5 L170.5 456.5 M191.5 452.5 L191.5 459.5 L190.5 460.5 L187.5 460.5 L186.5 459.5 L186.5 457.5 M195.5 455.5 L197.5 455.5 L198.5 456.5 L198.5 459.5 L197.5 460.5 L195.5 460.5 L194.5 459.5 L194.5 456.5 L195.5 455.5 M198.5 459.5 L199.5 460.5 M202.5 460.5 L202.5 455.5 L206.5 455.5 L207.5 456.5 L207.5 460.5" fill="none" stroke="#ffff00" stroke-width="1" stroke-linecap="square" stroke-linejoin="miter"/>
<path d="M320.5 452.5 L323.5 452.5 L324.5 453.5 L324.5 459.5 L323.5 460.5 L320.5 460.5 L319.5 459.5 L319.5 453.5 L320.5 452.5 M327.5 452.5 L332.5 452.5 L332.5 454.5 L330.5 458.5 L330.5 460.5 M348.5 452.5 L348.5 459.5 L347.5 460.5 L344.5 460.5 L343.5 459.5 L343.5 457.5 M352.5 455.5 L354.5 455.5 L355.5 456.5 L355.5 459.5 L354.5 460.5 L352.5 460.5 L351.5 459.5 L351.5 456.5 L352.5 455.5 M355.5 459.5 L356.5 460.5 M359.5 460.5 L359.5 455.5 L363.5 455.5 L364.5 456.5 L364.5 460.5" fill="none" stroke="#ffff00" stroke-width="1" stroke-linecap="square" stroke-linejoin="miter"/>
<path d="M477.5 452.5 L480.5 452.5 L481.5 453.5 L481.5 459.5 L480.5 460.5 L477.5 460.5 L476.5 459.5 L476.5 453.5 L477.5 452.5 M485.5 452.5 L488.5 452.5 L489.5 453.5 L489.5 455.5 L488.5 456.5 L489.5 457.5 L489.5 459.5 L488.5 460.5 L485.5 460.5 L484.5 459.5 L484.5 457.5 L485.5 456.5 L484.5 455.5 L484.5 453.5 L485.5 452.5 M485.5 456.5 L488.5 456.5 M505.5 452.5 L505.5 459.5 L504.5 460.5 L501.5 460.5 L500.5 459.5 L500.5 457.5 M509.5 455.5 L511.5 455.5 L512.5 456.5 L512.5 459.5 L511.5 460.5 L509.5 460.5 L508.5 459.5 L508.5 456.5 L509.5 455.5 M512.5 459.5 L513.5 460.5 M516.5 460.5 L516.5 455.5 L520.5 455.5 L521.5 456.5 L521.5 460.5" fill="none" stroke="#ffff00" stroke-width="1" stroke-linecap="square" stroke-linejoin="miter"/>
<path d="M16.5 471.5 L17.5 470.5 L20.5 470.5 L21.5 471.5 L21.5 473.5 L20.5 474.5 L19.5 475.5 L18.5 475.5 L17.5 476.5 L16.5 477.5 L21.5 477.5" fill="none" stroke="#ffff00" stroke-width="1" stroke-linecap="square"/>
<rect x="572" y="56" width="2" height="2" fill="#ff0000"/>
<path d="M567.5 52.5 L568.5 52.5 L568.5 51.5 L568.5 57.5 M567.5 57.5 L570.5 57.5 M579.5 51.5 L581.5 51.5 L582.5 52.5 L582.5 56.5 L581.5 57.5 L579.5 57.5 L578.5 56.5 L578.5 52.5 L579.5 51.5" fill="none" stroke="#ff0000" stroke-width="1" stroke-linecap="square" stroke-linejoin="miter"/>
<rect x="572" y="68" width="2" height="2" fill="#ff0000"/>
<path d="M567.5 63.5 L569.5 63.5 L570.5 64.5 L570.5 68.5 L569.5 69.5 L567.5 69.5 L566.5 68.5 L566.5 64.5 L567.5 63.5 M579.5 63.5 L581.5 63.5 L582.5 64.5 L582.5 68.5 L581.5 69.5 L579.5 69.5 L578.5 68.5 L578.5 64.5 L579.5 63.5" fill="none" stroke="#ff0000" stroke-width="1" stroke-linecap="square" stroke-linejoin="miter"/>
<rect x="572" y="80" width="2" height="2" fill="#ff0000"/>
<path d="M560.5 78.5 L564.5 78.5 M567.5 76.5 L568.5 76.5 L568.5 75.5 L568.5 81.5 M567.5 81.5 L570.5 81.5 M579.5 75.5 L581.5 75.5 L582.5 76.5 L582.5 80.5 L581.5 81.5 L579.5 81.5 L578.5 80.5 L578.5 76.5 L579.5 75.5" fill="none" stroke="#ff0000" stroke-width="1" stroke-linecap="square" stroke-linejoin="miter"/>
<rect x="572" y="92" width="2" height="2" fill="#ff0000"/>
<path d="M560.5 90.5 L564.5 90.5 M566.5 88.5 L567.5 87.5 L569.5 87.5 L570.5 88.5 L570.5 89.5 L566.5 93.5 L570.5 93.5 M579.5 87.5 L581.5 87.5 L582.5 88.5 L582.5 92.5 L581.5 93.5 L579.5 93.5 L578.5 92.5 L578.5 88.5 L579.5 87.5" fill="none" stroke="#ff0000" stroke-width="1" stroke-linecap="square" stroke-linejoin="miter"/>
<rect x="572" y="104" width="2" height="2" fill="#ff0000"/>
<path d="M560.5 102.5 L564.5 102.5 M566.5 100.5 L567.5 99.5 L569.5 99.5 L570.5 100.5 L570.5 101.5 L569.5 102.5 L568.5 102.5 M569.5 102.5 L570.5 103.5 L570.5 104.5 L569.5 105.5 L567.5 105.5 L566.5 104.5 M579.5 99.5 L581.5 99.5 L582.5 100.5 L582.5 104.5 L581.5 105.5 L579.5 105.5 L578.5 104.5 L578.5 100.5 L579.5 99.5" fill="none" stroke="#ff0000" stroke-width="1" stroke-linecap="square" stroke-linejoin="miter"/>
<rect x="572" y="116" width="2" height="2" fill="#ff0000"/>
<path d="M560.5 114.5 L564.5 114.5 M570.5 117.5 L570.5 111.5 M569.5 111.5 L566.5 114.5 L570.5 114.5 M579.5 111.5 L581.5 111.5 L582.5 112.5 L582.5 116.5 L581.5 117.5 L579.5 117.5 L578.5 116.5 L578.5 112.5 L579.5 111.5" fill="none" stroke="#ff0000" stroke-width="1" stroke-linecap="square" stroke-linejoin="miter"/>
<rect x="572" y="128" width="2" height="2" fill="#ff0000"/>
<path d="M560.5 126.5 L564.5 126.5 M570.5 123.5 L566.5 123.5 L566.5 125.5 L569.5 125.5 L570.5 126.5 L570.5 128.5 L569.5 129.5 L567.5 129.5 L566.5 128.5 M579.5 123.5 L581.5 123.5 L582.5 124.5 L582.5 128.5 L581.5 129.5 L579.5 129.5 L578.5 128.5 L578.5 124.5 L579.5 123.5" fill="none" stroke="#ff0000" stroke-width="1" stroke-linecap="square" stroke-linejoin="miter"/>
<rect x="572" y="140" width="2" height="2" fill="#ff0000"/>
<path d="M560.5 138.5 L564.5 138.5 M570.5 136.5 L569.5 135.5 L567.5 135.5 L566.5 136.5 L566.5 140.5 L567.5 141.5 L569.5 141.5 L570.5 140.5 L570.5 139.5 L569.5 138.5 L566.5 138.5 M579.5 135.5 L581.5 135.5 L582.5 136.5 L582.5 140.5 L581.5 141.5 L579.5 141.5 L578.5 140.5 L578.5 136.5 L579.5 135.5" fill="none" stroke="#ff0000" stroke-width="1" stroke-linecap="square" stroke-linejoin="miter"/>
<rect x="572" y="351" width="2" height="2" fill="#ff0000"/>
<path d="M561.5 352.5 L563.5 352.5 L564.5 351.5 L564.5 347.5 L563.5 346.5 L561.5 346.5 L560.5 347.5 L560.5 348.5 L561.5 349.5 L564.5 349.5 M567.5 346.5 L569.5 346.5 L570.5 347.5 L570.5 351.5 L569.5 352.5 L567.5 352.5 L566.5 351.5 L566.5 347.5 L567.5 346.5 M579.5 346.5 L581.5 346.5 L582.5 347.5 L582.5 351.5 L581.5 352.5 L579.5 352.5 L578.5 351.5 L578.5 347.5 L579.5 346.5" fill="none" stroke="#ff0000" stroke-width="1" stroke-linecap="square" stroke-linejoin="miter"/>
<rect x="572" y="367" width="2" height="2" fill="#ff0000"/>
<path d="M561.5 362.5 L563.5 362.5 L564.5 363.5 L564.5 364.5 L563.5 365.5 L564.5 366.5 L564.5 367.5 L563.5 368.5 L561.5 368.5 L560.5 367.5 L560.5 366.5 L561.5 365.5 L560.5 364.5 L560.5 363.5 L561.5 362.5 M561.5 365.5 L563.5 365.5 M567.5 362.5 L569.5 362.5 L570.5 363.5 L570.5 367.5 L569.5 368.5 L567.5 368.5 L566.5 367.5 L566.5 363.5 L567.5 362.5 M579.5 362.5 L581.5 362.5 L582.5 363.5 L582.5 367.5 L581.5 368.5 L579.5 368.5 L578.5 367.5 L578.5 363.5 L579.5 362.5" fill="none" stroke="#ff0000" stroke-width="1" stroke-linecap="square" stroke-linejoin="miter"/>
<rect x="572" y="383" width="2" height="2" fill="#ff0000"/>
<path d="M560.5 378.5 L564.5 378.5 L564.5 380.5 L562.5 382.5 L562.5 384.5 M567.5 378.5 L569.5 378.5 L570.5 379.5 L570.5 383.5 L569.5 384.5 L567.5 384.5 L566.5 383.5 L566.5 379.5 L567.5 378.5 M579.5 378.5 L581.5 378.5 L582.5 379.5 L582.5 383.5 L581.5 384.5 L579.5 384.5 L578.5 383.5 L578.5 379.5 L579.5 378.5" fill="none" stroke="#ff0000" stroke-width="1" stroke-linecap="square" stroke-linejoin="miter"/>
<rect x="572" y="399" width="2" height="2" fill="#ff0000"/>
<path d="M564.5 395.5 L563.5 394.5 L561.5 394.5 L560.5 395.5 L560.5 399.5 L561.5 400.5 L563.5 400.5 L564.5 399.5 L564.5 398.5 L563.5 397.5 L560.5 397.5 M567.5 394.5 L569.5 394.5 L570.5 395.5 L570.5 399.5 L569.5 400.5 L567.5 400.5 L566.5 399.5 L566.5 395.5 L567.5 394.5 M579.5 394.5 L581.5 394.5 L582.5 395.5 L582.5 399.5 L581.5 400.5 L579.5 400.5 L578.5 399.5 L578.5 395.5 L579.5 394.5" fill="none" stroke="#ff0000" stroke-width="1" stroke-linecap="square" stroke-linejoin="miter"/>
<rect x="572" y="415" width="2" height="2" fill="#ff0000"/>
<path d="M564.5 410.5 L560.5 410.5 L560.5 412.5 L563.5 412.5 L564.5 413.5 L564.5 415.5 L563.5 416.5 L561.5 416.5 L560.5 415.5 M567.5 410.5 L569.5 410.5 L570.5 411.5 L570.5 415.5 L569.5 416.5 L567.5 416.5 L566.5 415.5 L566.5 411.5 L567.5 410.5 M579.5 410.5 L581.5 410.5 L582.5 411.5 L582.5 415.5 L581.5 416.5 L579.5 416.5 L578.5 415.5 L578.5 411.5 L579.5 410.5" fill="none" stroke="#ff0000" stroke-width="1" stroke-linecap="square" stroke-linejoin="miter"/>
<rect x="572" y="431" width="2" height="2" fill="#ff0000"/>
<path d="M564.5 432.5 L564.5 426.5 M563.5 426.5 L560.5 429.5 L564.5 429.5 M567.5 426.5 L569.5 426.5 L570.5 427.5 L570.5 431.5 L569.5 432.5 L567.5 432.5 L566.5 431.5 L566.5 427.5 L567.5 426.5 M579.5 426.5 L581.5 426.5 L582.5 427.5 L582.5 431.5 L581.5 432.5 L579.5 432.5 L578.5 431.5 L578.5 427.5 L579.5 426.5" fill="none" stroke="#ff0000" stroke-width="1" stroke-linecap="square" stroke-linejoin="miter"/>
<path d="M589.5 86.5 L593.5 86.5 M591.5 86.5 L591.5 92.5 M598.5 86.5 L597.5 87.5 L597.5 91.5 L598.5 92.5 M605.5 87.5 L604.5 86.5 L602.5 86.5 L601.5 87.5 L601.5 91.5 L602.5 92.5 L604.5 92.5 L605.5 91.5 M608.5 86.5 L609.5 87.5 L609.5 91.5 L608.5 92.5" fill="none" stroke="#ff0000" stroke-width="1" stroke-linecap="square" stroke-linejoin="miter"/>
<rect x="607" y="377" width="2" height="2" fill="#ff0000"/>
<rect x="610" y="382" width="2" height="2" fill="#ff0000"/>
<path d="M589.5 383.5 L589.5 377.5 L592.5 377.5 L593.5 378.5 L593.5 379.5 L592.5 380.5 L589.5 380.5 M591.5 380.5 L593.5 383.5 M595.5 377.5 L595.5 383.5 M599.5 377.5 L599.5 383.5 M595.5 380.5 L599.5 380.5 M604.5 377.5 L603.5 378.5 L603.5 382.5 L604.5 383.5 M607.5 383.5 L611.5 377.5 M614.5 377.5 L615.5 378.5 L615.5 382.5 L614.5 383.5" fill="none" stroke="#ff0000" stroke-width="1" stroke-linecap="square" stroke-linejoin="miter"/>
</g>
</svg>
</body></html>
